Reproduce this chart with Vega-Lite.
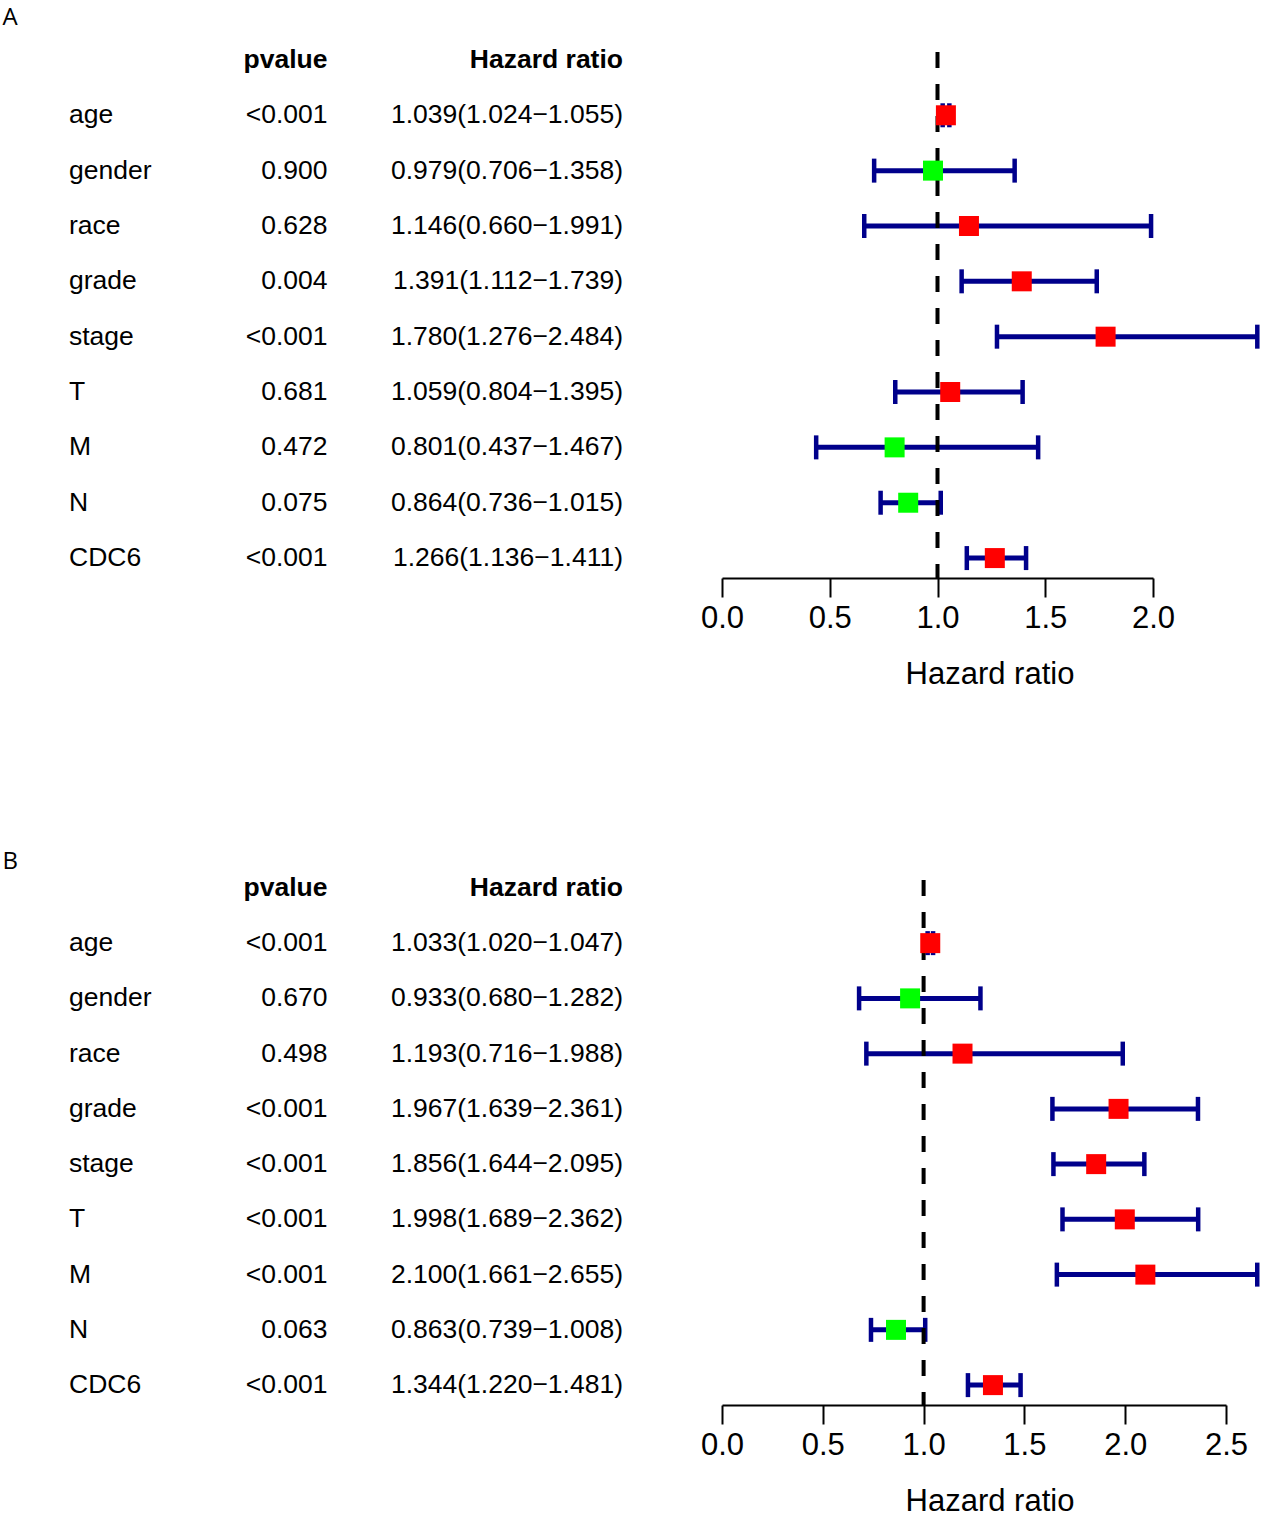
{
  "$schema": "https://vega.github.io/schema/vega-lite/v6.json",
  "padding": {"left": 2, "top": 5, "right": 5, "bottom": 0},
  "datasets": {
    "A": [
      {"name": "age", "p": "<0.001", "hr": 1.039, "low": 1.024, "high": 1.055, "hrText": "1.039(1.024−1.055)"},
      {"name": "gender", "p": "0.900", "hr": 0.979, "low": 0.706, "high": 1.358, "hrText": "0.979(0.706−1.358)"},
      {"name": "race", "p": "0.628", "hr": 1.146, "low": 0.660, "high": 1.991, "hrText": "1.146(0.660−1.991)"},
      {"name": "grade", "p": "0.004", "hr": 1.391, "low": 1.112, "high": 1.739, "hrText": "1.391(1.112−1.739)"},
      {"name": "stage", "p": "<0.001", "hr": 1.780, "low": 1.276, "high": 2.484, "hrText": "1.780(1.276−2.484)"},
      {"name": "T", "p": "0.681", "hr": 1.059, "low": 0.804, "high": 1.395, "hrText": "1.059(0.804−1.395)"},
      {"name": "M", "p": "0.472", "hr": 0.801, "low": 0.437, "high": 1.467, "hrText": "0.801(0.437−1.467)"},
      {"name": "N", "p": "0.075", "hr": 0.864, "low": 0.736, "high": 1.015, "hrText": "0.864(0.736−1.015)"},
      {"name": "CDC6", "p": "<0.001", "hr": 1.266, "low": 1.136, "high": 1.411, "hrText": "1.266(1.136−1.411)"}
    ],
    "B": [
      {"name": "age", "p": "<0.001", "hr": 1.033, "low": 1.020, "high": 1.047, "hrText": "1.033(1.020−1.047)"},
      {"name": "gender", "p": "0.670", "hr": 0.933, "low": 0.680, "high": 1.282, "hrText": "0.933(0.680−1.282)"},
      {"name": "race", "p": "0.498", "hr": 1.193, "low": 0.716, "high": 1.988, "hrText": "1.193(0.716−1.988)"},
      {"name": "grade", "p": "<0.001", "hr": 1.967, "low": 1.639, "high": 2.361, "hrText": "1.967(1.639−2.361)"},
      {"name": "stage", "p": "<0.001", "hr": 1.856, "low": 1.644, "high": 2.095, "hrText": "1.856(1.644−2.095)"},
      {"name": "T", "p": "<0.001", "hr": 1.998, "low": 1.689, "high": 2.362, "hrText": "1.998(1.689−2.362)"},
      {"name": "M", "p": "<0.001", "hr": 2.100, "low": 1.661, "high": 2.655, "hrText": "2.100(1.661−2.655)"},
      {"name": "N", "p": "0.063", "hr": 0.863, "low": 0.739, "high": 1.008, "hrText": "0.863(0.739−1.008)"},
      {"name": "CDC6", "p": "<0.001", "hr": 1.344, "low": 1.220, "high": 1.481, "hrText": "1.344(1.220−1.481)"}
    ],
    "headers": [
      {"h": "pvalue", "col": "p"},
      {"h": "Hazard ratio", "col": "hr"}
    ],
    "ref": [{"ref": 1}]
  },
  "config": {
    "view": {"stroke": null},
    "font": "Liberation Sans",
    "text": {"font": "Liberation Sans", "fontSize": 26.5, "color": "black", "baseline": "middle"}
  },
  "vconcat": [
    {
      "title": {"text": "A", "anchor": "start", "frame": "group", "orient": "top", "dx": -66.5, "offset": -10.7, "fontSize": 24, "font": "Open Sans", "fontWeight": "normal", "color": "black", "baseline": "alphabetic"},
      "bounds": "flush",
      "spacing": 99,
      "hconcat": [
        {
          "width": 554, "height": 538,
          "layer": [
            {"data": {"name": "A"}, "mark": {"type": "text", "align": "left"},
             "encoding": {
               "x": {"datum": 0, "type": "quantitative", "scale": {"domain": [0, 3], "nice": false, "zero": false}, "axis": null},
               "y": {"field": "name", "type": "nominal", "scale": {"type": "point", "domain": ["header", "age", "gender", "race", "grade", "stage", "T", "M", "N", "CDC6"], "padding": 0.36}, "axis": null},
               "text": {"field": "name"}}},
            {"data": {"name": "A"}, "mark": {"type": "text", "align": "right"},
             "encoding": {"x": {"datum": 1.4, "type": "quantitative"}, "y": {"field": "name", "type": "nominal"}, "text": {"field": "p"}}},
            {"data": {"name": "A"}, "mark": {"type": "text", "align": "right"},
             "encoding": {"x": {"datum": 3, "type": "quantitative"}, "y": {"field": "name", "type": "nominal"}, "text": {"field": "hrText"}}},
            {"data": {"name": "headers"}, "transform": [{"filter": "datum.col == 'p'"}], "mark": {"type": "text", "align": "right", "fontWeight": "bold"},
             "encoding": {"x": {"datum": 1.4, "type": "quantitative"}, "y": {"datum": "header", "type": "nominal"}, "text": {"field": "h"}}},
            {"data": {"name": "headers"}, "transform": [{"filter": "datum.col == 'hr'"}], "mark": {"type": "text", "align": "right", "fontWeight": "bold"},
             "encoding": {"x": {"datum": 3, "type": "quantitative"}, "y": {"datum": "header", "type": "nominal"}, "text": {"field": "h"}}}
          ]
        },
        {
          "width": 431, "height": 538,
          "layer": [
            {"data": {"name": "A"}, "mark": {"type": "rule", "color": "#00008B", "strokeWidth": 5},
             "encoding": {
               "x": {"field": "low", "type": "quantitative", "scale": {"domain": [0, 2], "nice": false},
                     "axis": {"values": [0, 0.5, 1, 1.5, 2], "format": ".1f", "title": "Hazard ratio", "grid": false,
                              "domainColor": "black", "domainWidth": 2, "tickColor": "black", "tickWidth": 2, "tickSize": 19,
                              "labelFont": "Liberation Sans", "labelFontSize": 31, "labelColor": "black", "labelPadding": 6, "labelFlush": false,
                              "titleFont": "Liberation Sans", "titleFontSize": 31, "titleFontWeight": "normal", "titleColor": "black", "titlePadding": 26, "titleX": 267.5}},
               "x2": {"field": "high"},
               "y": {"field": "name", "type": "nominal", "scale": {"type": "point", "domain": ["header", "age", "gender", "race", "grade", "stage", "T", "M", "N", "CDC6"], "padding": 0.36}, "axis": null}}},
            {"data": {"name": "A"}, "mark": {"type": "tick", "color": "#00008B", "thickness": 4.5, "size": 24, "opacity": 1},
             "encoding": {"x": {"field": "low", "type": "quantitative"}, "y": {"field": "name", "type": "nominal"}}},
            {"data": {"name": "A"}, "mark": {"type": "tick", "color": "#00008B", "thickness": 4.5, "size": 24, "opacity": 1},
             "encoding": {"x": {"field": "high", "type": "quantitative"}, "y": {"field": "name", "type": "nominal"}}},
            {"data": {"name": "ref"}, "mark": {"type": "rule", "color": "black", "strokeWidth": 4, "strokeDash": [16, 16], "strokeDashOffset": 20},
             "encoding": {"x": {"field": "ref", "type": "quantitative"}}},
            {"data": {"name": "A"}, "mark": {"type": "point", "shape": "square", "filled": true, "size": 400, "opacity": 1},
             "encoding": {"x": {"field": "hr", "type": "quantitative"}, "y": {"field": "name", "type": "nominal"},
                          "color": {"condition": {"test": "datum.hr > 1", "value": "#FF0000"}, "value": "#00FF00"}}}
          ]
        }
      ]
    },
    {
      "title": {"text": "B", "anchor": "start", "frame": "group", "orient": "top", "dx": -66.5, "offset": -26.7, "fontSize": 24, "font": "Open Sans", "fontWeight": "normal", "color": "black", "baseline": "alphabetic"},
      "bounds": "flush",
      "spacing": 99,
      "hconcat": [
        {
          "width": 554, "height": 537,
          "layer": [
            {"data": {"name": "B"}, "mark": {"type": "text", "align": "left"},
             "encoding": {
               "x": {"datum": 0, "type": "quantitative", "scale": {"domain": [0, 3], "nice": false, "zero": false}, "axis": null},
               "y": {"field": "name", "type": "nominal", "scale": {"type": "point", "domain": ["header", "age", "gender", "race", "grade", "stage", "T", "M", "N", "CDC6"], "padding": 0.36}, "axis": null},
               "text": {"field": "name"}}},
            {"data": {"name": "B"}, "mark": {"type": "text", "align": "right"},
             "encoding": {"x": {"datum": 1.4, "type": "quantitative"}, "y": {"field": "name", "type": "nominal"}, "text": {"field": "p"}}},
            {"data": {"name": "B"}, "mark": {"type": "text", "align": "right"},
             "encoding": {"x": {"datum": 3, "type": "quantitative"}, "y": {"field": "name", "type": "nominal"}, "text": {"field": "hrText"}}},
            {"data": {"name": "headers"}, "transform": [{"filter": "datum.col == 'p'"}], "mark": {"type": "text", "align": "right", "fontWeight": "bold"},
             "encoding": {"x": {"datum": 1.4, "type": "quantitative"}, "y": {"datum": "header", "type": "nominal"}, "text": {"field": "h"}}},
            {"data": {"name": "headers"}, "transform": [{"filter": "datum.col == 'hr'"}], "mark": {"type": "text", "align": "right", "fontWeight": "bold"},
             "encoding": {"x": {"datum": 3, "type": "quantitative"}, "y": {"datum": "header", "type": "nominal"}, "text": {"field": "h"}}}
          ]
        },
        {
          "width": 504, "height": 537,
          "layer": [
            {"data": {"name": "B"}, "mark": {"type": "rule", "color": "#00008B", "strokeWidth": 5},
             "encoding": {
               "x": {"field": "low", "type": "quantitative", "scale": {"domain": [0, 2.5], "nice": false},
                     "axis": {"values": [0, 0.5, 1, 1.5, 2, 2.5], "format": ".1f", "title": "Hazard ratio", "grid": false,
                              "domainColor": "black", "domainWidth": 2, "tickColor": "black", "tickWidth": 2, "tickSize": 19,
                              "labelFont": "Liberation Sans", "labelFontSize": 31, "labelColor": "black", "labelPadding": 6, "labelFlush": false,
                              "titleFont": "Liberation Sans", "titleFontSize": 31, "titleFontWeight": "normal", "titleColor": "black", "titlePadding": 26, "titleX": 267.5}},
               "x2": {"field": "high"},
               "y": {"field": "name", "type": "nominal", "scale": {"type": "point", "domain": ["header", "age", "gender", "race", "grade", "stage", "T", "M", "N", "CDC6"], "padding": 0.36}, "axis": null}}},
            {"data": {"name": "B"}, "mark": {"type": "tick", "color": "#00008B", "thickness": 4.5, "size": 24, "opacity": 1},
             "encoding": {"x": {"field": "low", "type": "quantitative"}, "y": {"field": "name", "type": "nominal"}}},
            {"data": {"name": "B"}, "mark": {"type": "tick", "color": "#00008B", "thickness": 4.5, "size": 24, "opacity": 1},
             "encoding": {"x": {"field": "high", "type": "quantitative"}, "y": {"field": "name", "type": "nominal"}}},
            {"data": {"name": "ref"}, "mark": {"type": "rule", "color": "black", "strokeWidth": 4, "strokeDash": [16, 16], "strokeDashOffset": 20},
             "encoding": {"x": {"field": "ref", "type": "quantitative"}}},
            {"data": {"name": "B"}, "mark": {"type": "point", "shape": "square", "filled": true, "size": 400, "opacity": 1},
             "encoding": {"x": {"field": "hr", "type": "quantitative"}, "y": {"field": "name", "type": "nominal"},
                          "color": {"condition": {"test": "datum.hr > 1", "value": "#FF0000"}, "value": "#00FF00"}}}
          ]
        }
      ]
    }
  ],
  "spacing": 160
}
